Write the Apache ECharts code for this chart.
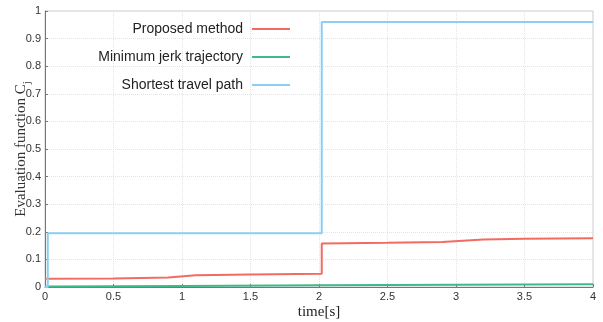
<!DOCTYPE html>
<html><head><meta charset="utf-8">
<script src="https://cdn.jsdelivr.net/npm/echarts@6/dist/echarts.min.js"></script>
<style>html,body{margin:0;padding:0;background:#fff}#c{width:603px;height:322px}</style>
</head><body><div id="c"></div>
<script>
var seriesNames = ['Proposed method', 'Minimum jerk trajectory', 'Shortest travel path'];
var xTicks = [0, 0.5, 1, 1.5, 2, 2.5, 3, 3.5, 4];
var yTicks = [0, 0.1, 0.2, 0.3, 0.4, 0.5, 0.6, 0.7, 0.8, 0.9, 1];

var proposedT = [0, 0.5, 0.9, 1.1, 1.5, 2.02, 2.02, 2.5, 2.9, 3.2, 3.5, 4];
var proposedV = [0.030, 0.031, 0.034, 0.043, 0.045, 0.048, 0.158, 0.160, 0.163, 0.172, 0.175, 0.177];
var jerkT = [0, 1, 2, 3, 4];
var jerkV = [0.002, 0.004, 0.006, 0.008, 0.010];
var shortestT = [0, 0.02, 0.02, 2.02, 2.02, 4];
var shortestV = [0, 0, 0.195, 0.195, 0.96, 0.96];

function pairs(t, v){ return t.map(function(x,i){ return [x, v[i]]; }); }
var colors = ['#f26b63', '#3dba8a', '#8ccdf2'];

var chart = echarts.init(document.getElementById('c'));
chart.setOption({
  animation: false,
  grid: {left: 45, right: 10, top: 11, bottom: 35, show: true, borderColor: '#ccc', borderWidth: 1,
         containLabel: false, outerBoundsMode: 'none'},
  legend: {
    orient: 'vertical', right: 308, top: 17, align: 'right',
    itemWidth: 38, itemHeight: 2, itemGap: 14, icon: 'rect',
    textStyle: {fontFamily: 'Liberation Sans', fontSize: 14, color: '#222', padding: [0, 4, 0, 0]},
    data: seriesNames
  },
  xAxis: {
    type: 'value', min: 0, max: 4, interval: 0.5,
    name: 'time[s]', nameLocation: 'middle', nameGap: 18, nameMoveOverlap: false,
    nameTextStyle: {fontFamily: 'Liberation Serif', fontSize: 15, color: '#222'},
    axisLine: {onZero: false, lineStyle: {color: '#777'}},
    axisTick: {inside: true, length: 3, lineStyle: {color: '#777'}},
    axisLabel: {fontFamily: 'Liberation Sans', fontSize: 11, color: '#333', margin: 4,
      formatter: function(v){ return xTicks.indexOf(v) >= 0 ? String(v) : ''; }},
    splitLine: {show: true, lineStyle: {color: '#e4e4e4', type: 'dotted'}}
  },
  yAxis: {
    type: 'value', min: 0, max: 1, interval: 0.1,
    name: '{a|Evaluation function C}{s|j}', nameLocation: 'middle', nameGap: 16, nameMoveOverlap: false,
    nameTextStyle: {fontFamily: 'Liberation Serif', fontSize: 15, color: '#333',
      rich: {a: {fontFamily: 'Liberation Serif', fontSize: 15, color: '#333'},
             s: {fontFamily: 'Liberation Serif', fontSize: 11, color: '#333', verticalAlign: 'bottom', padding: [0,0,-4,0]}}},
    axisLine: {show: true, lineStyle: {color: '#777'}},
    axisTick: {inside: true, length: 3, lineStyle: {color: '#777'}},
    axisLabel: {fontFamily: 'Liberation Sans', fontSize: 11, color: '#333', margin: 4,
      formatter: function(v){ var r = Math.round(v*10)/10; return yTicks.indexOf(r) >= 0 ? String(r) : ''; }},
    splitLine: {show: true, lineStyle: {color: '#e4e4e4', type: 'dotted'}}
  },
  series: [
    {name: seriesNames[0], type: 'line', showSymbol: false, data: pairs(proposedT, proposedV), lineStyle: {width: 2, color: colors[0]}, itemStyle: {color: colors[0]}},
    {name: seriesNames[1], type: 'line', showSymbol: false, data: pairs(jerkT, jerkV), lineStyle: {width: 2, color: colors[1]}, itemStyle: {color: colors[1]}},
    {name: seriesNames[2], type: 'line', showSymbol: false, data: pairs(shortestT, shortestV), lineStyle: {width: 2, color: colors[2]}, itemStyle: {color: colors[2]}}
  ]
});
</script></body></html>
